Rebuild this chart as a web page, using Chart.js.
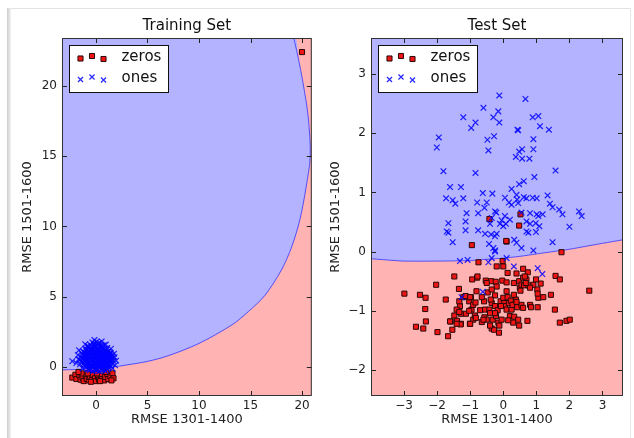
<!DOCTYPE html>
<html>
<head>
<meta charset="utf-8">
<script src="https://cdn.jsdelivr.net/npm/chart.js@4.4.1/dist/chart.umd.min.js"></script>
<style>
  html, body { margin: 0; padding: 0; background: #fff; }
  body { width: 634px; height: 438px; position: relative; overflow: hidden; }
  .edge-top { position: absolute; left: 8px; top: 8px; width: 623px; height: 1px; background: #e3e3e3; }
  .edge-left { position: absolute; left: 7px; top: 8px; width: 4px; height: 430px; background: linear-gradient(to right, #cdcdcd, #f3f3f3); }
  .edge-right { position: absolute; left: 630px; top: 8px; width: 1px; height: 430px; background: #e6e6e6; }
  .panel { position: absolute; top: 0; width: 317px; height: 438px; }
  #leftPanel { left: 0; }
  #rightPanel { left: 317px; }
</style>
</head>
<body>
<div class="edge-top"></div>
<div class="edge-left"></div>
<div class="edge-right"></div>
<div class="panel" id="leftPanel"><canvas id="trainChart"></canvas></div>
<div class="panel" id="rightPanel"><canvas id="testChart"></canvas></div>
<script>
// ---------- Training Set ----------
const trainZeros = [
  [-2.3,-0.75],[-2.0,-0.55],[-1.9,-0.85],[-1.6,-0.6],[-1.5,-0.9],[-1.3,-0.75],[-1.2,-1.0],
  [-1.0,-0.6],[-0.9,-0.85],[-0.7,-0.95],[-0.6,-0.7],[-0.4,-0.9],[-0.3,-0.55],[-0.1,-0.8],
  [0.0,-1.0],[0.2,-0.7],[0.3,-0.9],[0.5,-0.6],[0.6,-0.85],[0.8,-0.95],[0.9,-0.7],[1.1,-0.5],
  [1.2,-0.85],[1.4,-0.65],[1.6,-0.45],[1.7,-0.8],[-1.4,-0.45],[-0.8,-0.45],[0.1,-0.45],
  [1.0,-0.35],[-1.7,-0.35],[0.4,-1.0],[-0.5,-1.05],[1.5,-0.95],[20.0,22.4]
];
const trainOnes = [
  [-0.35,1.75],[0.05,1.8],[0.35,1.72],[-0.15,1.68],[0.2,1.65],
  [-0.85,1.5],[-0.55,1.58],[-0.2,1.55],[0.1,1.6],[0.45,1.52],[0.75,1.55],[-0.7,1.45],[-0.38,1.46],[-0.05,1.47],[0.28,1.44],[0.6,1.45],
  [-1.05,1.3],[-0.75,1.38],[-0.45,1.32],[-0.12,1.4],[0.2,1.33],[0.5,1.37],[0.82,1.3],[1.1,1.35],[-0.9,1.24],[-0.6,1.26],[-0.28,1.25],[0.05,1.27],[0.35,1.24],[0.67,1.25],[0.97,1.22],
  [-1.25,1.1],[-0.95,1.18],[-0.62,1.12],[-0.3,1.2],[0.02,1.13],[0.32,1.18],[0.62,1.1],[0.92,1.16],[1.22,1.12],[-1.1,1.04],[-0.78,1.05],[-0.46,1.04],[-0.15,1.06],[0.17,1.04],[0.47,1.05],[0.77,1.03],[1.07,1.05],[1.37,1.04],
  [-1.35,0.92],[-1.05,0.98],[-0.72,0.9],[-0.42,0.97],[-0.1,0.93],[0.22,0.99],[0.52,0.91],[0.82,0.96],[1.12,0.92],[1.42,0.97],[-1.2,0.85],[-0.88,0.84],[-0.57,0.86],[-0.26,0.84],[0.06,0.86],[0.37,0.83],[0.67,0.85],[0.97,0.84],[1.27,0.86],[1.55,0.85],
  [-1.45,0.72],[-1.15,0.78],[-0.82,0.7],[-0.52,0.77],[-0.2,0.73],[0.12,0.79],[0.42,0.71],[0.72,0.76],[1.02,0.72],[1.32,0.78],[1.62,0.74],[-1.3,0.64],[-0.98,0.65],[-0.67,0.63],[-0.36,0.66],[-0.04,0.64],[0.27,0.65],[0.57,0.63],[0.87,0.66],[1.17,0.64],[1.47,0.65],
  [-1.55,0.52],[-1.22,0.58],[-0.92,0.5],[-0.6,0.57],[-0.28,0.53],[0.02,0.59],[0.32,0.51],[0.62,0.56],[0.92,0.52],[1.22,0.58],[1.52,0.54],[-1.4,0.44],[-1.08,0.45],[-0.76,0.43],[-0.44,0.46],[-0.13,0.44],[0.17,0.45],[0.47,0.43],[0.77,0.46],[1.07,0.44],[1.37,0.45],[1.68,0.44],
  [-1.35,0.32],[-1.02,0.38],[-0.72,0.3],[-0.4,0.37],[-0.1,0.33],[0.22,0.39],[0.52,0.31],[0.82,0.36],[1.12,0.32],[1.42,0.38],[-1.2,0.24],[-0.87,0.25],[-0.56,0.23],[-0.25,0.26],[0.07,0.24],[0.37,0.25],[0.67,0.23],[0.97,0.26],[1.27,0.24],[1.57,0.25],
  [-1.15,0.12],[-0.82,0.18],[-0.5,0.1],[-0.2,0.17],[0.12,0.13],[0.42,0.19],[0.72,0.11],[1.02,0.16],[1.32,0.12],[-0.98,0.05],[-0.66,0.04],[-0.35,0.06],[-0.04,0.05],[0.27,0.04],[0.57,0.06],[0.87,0.04],[1.17,0.05],[1.47,0.04],
  [-0.92,-0.02],[-0.62,-0.08],[-0.3,0.0],[0.02,-0.06],[0.32,-0.01],[0.62,-0.07],[0.92,-0.03],[1.22,-0.05],[-0.77,-0.15],[-0.45,-0.14],[-0.14,-0.16],[0.17,-0.15],[0.47,-0.14],[0.77,-0.16],[1.07,-0.15],
  [-0.6,-0.22],[-0.3,-0.28],[0.0,-0.24],[0.3,-0.3],[0.6,-0.22],[0.9,-0.26],
  [-2.3,0.42],[-1.9,0.28],[-1.75,0.85],[-1.65,1.2],[1.95,0.45],[1.85,0.12],[1.75,0.95],[1.45,1.3],
  [0.95,1.6],[-1.05,1.62],[0.55,1.82],[-0.15,1.92],[1.6,-0.1],[-1.3,-0.1],[-1.7,0.55],[1.8,0.7],[-1.55,0.2]
];
// decision boundary (blue region lies above/left of it)
const trainBoundary = [
  [-3.3,-0.2],[-2,-0.18],[-1,-0.14],[0,-0.1],[1.6,0.0],[3,0.15],[5,0.4],[7,0.8],[10,1.68],
  [13.2,3.0],[14.8,3.95],[16.4,5.1],[18,6.9],[19,8.55],[19.8,10.5],[20.4,12.8],[20.8,15],
  [20.6,17.8],[20.1,20.2],[19.6,22.1],[19.2,23.4]
];
const trainXTicks = [0, 5, 10, 15, 20];
const trainYTicks = [0, 5, 10, 15, 20];
const trainXRange = [-3.3, 20.95];
const trainYRange = [-2.06, 23.4];

// ---------- Test Set ----------
const testZeros = [
  [-2.99,-0.71],[-2.52,-0.73],[-2.35,-0.78],[-2.36,-0.97],[-2.64,-1.27],[-2.42,-1.30],[-2.34,-1.18],
  [-1.99,-1.36],[-2.03,-0.56],[-1.74,-0.81],[-1.67,-1.43],[-1.54,-1.32],[-1.59,-1.18],[-1.48,-0.42],
  [-1.48,-1.08],[-1.40,-1.17],[-1.34,-0.63],[-1.31,-0.92],[-1.33,-0.84],[-1.28,-1.05],[-1.28,-1.22],
  [-1.21,-0.77],[-1.14,-0.75],[-1.03,-0.84],[-1.01,-1.22],[-0.98,-0.77],[-0.94,-0.47],[-0.95,0.11],
  [-0.91,-1.15],[-0.96,-0.98],[-0.91,-0.90],[-0.84,-0.86],[-0.86,-1.08],[-0.79,-0.44],[-0.75,-0.18],
  [-0.70,-0.99],[-0.65,-1.19],[-0.58,-0.84],[-0.55,-0.98],[-0.53,-0.49],[-0.57,-1.11],[-0.50,-1.15],
  [-0.47,-0.69],[-0.42,-0.98],[-0.40,-1.04],[-0.37,-0.50],[-0.35,-0.87],[-0.35,-1.30],[-0.32,-1.15],
  [-0.28,-1.32],[-0.25,-0.74],[-0.25,-0.92],[-0.23,-0.51],[-0.22,-1.09],[-0.20,-0.25],[-0.17,-0.99],
  [-0.15,-1.20],[-0.13,-1.37],[-0.12,-1.25],[-0.08,-0.84],[-0.05,-1.15],[-0.03,-0.49],[0.0,-0.25],
  [-0.02,-0.16],[0.0,-0.78],[0.03,-0.87],[0.05,-0.92],[0.10,-0.52],[0.10,-0.98],[0.13,-0.77],
  [0.10,0.17],[0.17,-0.87],[0.20,-1.09],[0.13,-0.36],[0.23,-0.83],[0.25,-0.98],[0.28,-0.90],
  [0.32,-0.53],[0.33,-1.10],[0.38,-0.81],[0.40,-0.37],[0.42,-0.94],[0.45,-1.15],[0.48,0.44],
  [0.48,-0.50],[0.48,-1.25],[0.50,-0.61],[0.52,-0.66],[0.55,-0.56],[0.60,-0.44],[0.63,-0.57],
  [0.55,-0.90],[0.60,-0.95],[0.70,-0.47],[0.74,-0.35],[0.76,-0.57],[0.73,-1.17],[0.81,-0.90],
  [0.84,-0.94],[0.91,-0.56],[1.03,-0.64],[1.06,-0.78],[1.04,-0.94],[1.13,-0.54],[1.21,-0.77],
  [1.44,-0.73],[1.58,-0.41],[1.56,-0.98],[1.71,-0.47],[1.71,-1.20],[1.76,-0.01],[1.91,-1.17],
  [2.01,-1.15],[2.60,-0.66],[-0.42,0.55],[0.52,0.63],[0.09,0.18],
  [0.10,-0.67],[0.32,-0.73],[-0.20,-0.59],[-0.35,-0.64],[-0.81,-0.67],[-0.65,-0.77],[0.30,-1.20],
  [0.15,-1.16],[-0.40,-1.25],[0.81,-0.61],[0.99,-0.47],[-1.41,-0.98],[-1.13,-1.05],[-0.50,-0.53],
  [0.60,-0.29],[0.65,-0.42],[0.68,-0.53],[0.40,-0.85],[-0.07,-0.92],[-0.25,-1.04],[1.04,-0.71],
  [-0.78,-0.42],[-1.00,-0.77],[-1.33,-1.02],[-1.03,-1.00],[-1.29,-1.23],[-1.00,-1.22],[-0.83,-1.12],
  [-0.60,-1.15],[-0.38,-0.81],[-1.61,-1.18],[-1.41,-1.22]
];
const testOnes = [
  [-0.12,2.64],[0.67,2.58],[-0.60,2.43],[-0.15,2.37],[-1.21,2.27],[-0.30,2.27],[0.89,2.27],[1.06,2.29],
  [-0.84,2.18],[-0.12,2.18],[-0.97,2.09],[1.11,2.12],[0.43,2.06],[0.45,2.05],[1.38,2.06],[-1.95,1.93],
  [-0.28,1.95],[-0.48,1.89],[0.91,1.90],[-2.01,1.76],[-0.45,1.71],[0.57,1.73],[0.48,1.69],[0.91,1.73],
  [0.38,1.60],[0.57,1.57],[0.79,1.57],[-1.81,1.36],[-0.84,1.33],[1.58,1.37],[0.94,1.26],[0.48,1.14],
  [0.62,1.19],[0.25,1.06],[-1.61,1.09],[-1.28,1.09],[-0.33,0.98],[-0.62,0.99],[1.34,0.95],[0.40,0.96],
  [-1.73,0.90],[-1.53,0.87],[-1.45,0.81],[-1.21,0.90],[-0.79,0.83],[-0.50,0.83],[-0.57,0.74],[0.05,0.91],
  [0.17,0.83],[0.25,0.79],[0.42,0.88],[0.62,0.92],[0.70,0.90],[0.89,0.91],[1.01,0.90],[0.45,0.82],
  [1.41,0.81],[1.49,0.75],[1.69,0.71],[1.79,0.63],[2.29,0.68],[2.37,0.60],[-1.11,0.65],[-0.76,0.65],
  [-0.25,0.68],[-0.21,0.66],[0.55,0.66],[0.81,0.65],[1.01,0.63],[1.06,0.60],[1.19,0.63],[-0.35,0.57],
  [-0.05,0.53],[0.05,0.60],[0.08,0.47],[0.20,0.54],[-0.10,0.47],[-1.66,0.48],[-1.14,0.51],[-1.71,0.34],
  [-1.14,0.36],[-1.66,0.32],[-0.76,0.36],[-0.40,0.47],[0.0,0.43],[0.70,0.51],[0.81,0.47],[0.98,0.48],
  [1.09,0.43],[0.99,0.33],[0.70,0.34],[-0.20,0.30],[-0.25,0.26],[-0.43,0.13],[-0.30,0.06],[-0.25,0.02],
  [0.33,0.20],[0.40,0.15],[2.0,0.42],[-1.53,0.16],[1.49,0.16],[0.91,0.02],[0.55,0.06],[0.76,0.32],
  [-0.37,0.29],[-0.55,0.30],[-1.31,-0.16],[-1.08,-0.14],[-0.45,-0.18],[-0.35,-0.11],[-0.25,0.0],
  [0.32,-0.25],[1.04,-0.28],[1.18,-0.38],[-0.62,-0.68],[-1.26,-0.77],[0.10,-0.11]
];
const testBoundary = [
  [-4.0,-0.12],[-3.3,-0.15],[-3.0,-0.16],[-2.0,-0.16],[-1.0,-0.15],[-0.5,-0.13],[0.0,-0.11],
  [0.5,-0.08],[1.0,-0.04],[1.5,0.0],[2.0,0.04],[2.5,0.09],[3.0,0.14],[3.62,0.2]
];
const testXTicks = [-3, -2, -1, 0, 1, 2, 3];
const testYTicks = [-2, -1, 0, 1, 2, 3];
const testXRange = [-4.0, 3.62];
const testYRange = [-2.44, 3.61];

const seriesNames = ['zeros', 'ones'];
const xTitle = 'RMSE 1301-1400';
const yTitle = 'RMSE 1501-1600';

Chart.defaults.font.family = "'DejaVu Sans', sans-serif";
Chart.defaults.color = '#222';

const BLUE_REGION = '#b3b3ff';
const RED_REGION = '#ffb3b3';
const EDGE_BLUE = 'rgba(60,60,255,0.85)';
const toPts = arr => arr.map(([x, y]) => ({ x, y }));
const fmt = v => (v < 0 ? '\u2212' + Math.abs(v) : String(v));

// matplotlib-like frame: pink background, box, inward ticks, legend
function mplPlugin() {
  return {
    id: 'mplFrame',
    beforeDatasetsDraw(chart) {
      const { ctx, chartArea: a } = chart;
      ctx.save();
      ctx.fillStyle = RED_REGION;
      ctx.fillRect(a.left, a.top, a.width, a.height);
      ctx.restore();
    },
    afterDatasetsDraw(chart) {
      const { ctx, chartArea: a, scales } = chart;
      ctx.save();
      ctx.strokeStyle = '#222';
      ctx.lineWidth = 1;
      ctx.beginPath();
      scales.x.ticks.forEach(t => {
        const p = Math.round(scales.x.getPixelForValue(t.value)) + 0.5;
        ctx.moveTo(p, a.top); ctx.lineTo(p, a.top + 5);
        ctx.moveTo(p, a.bottom); ctx.lineTo(p, a.bottom - 5);
      });
      scales.y.ticks.forEach(t => {
        const p = Math.round(scales.y.getPixelForValue(t.value)) + 0.5;
        ctx.moveTo(a.left, p); ctx.lineTo(a.left + 5, p);
        ctx.moveTo(a.right, p); ctx.lineTo(a.right - 5, p);
      });
      ctx.stroke();
      ctx.strokeStyle = '#333';
      ctx.strokeRect(a.left + 0.5, a.top + 0.5, a.width - 1, a.height - 1);

      // legend box (upper left, inside the axes)
      const bx = a.left + 7.5, by = a.top + 7.5, bw = 99, bh = 47;
      ctx.fillStyle = '#fff';
      ctx.fillRect(bx, by, bw, bh);
      ctx.strokeStyle = '#111';
      ctx.strokeRect(bx, by, bw, bh);
      const rows = [a.top + 19.5, a.top + 40.5];
      const dx = [11, 22.5, 34], dy = [1, -1.5, 1.5];
      const ds = chart.data.datasets;
      rows.forEach((ry, i) => {
        const d = ds.find(s => s.label === seriesNames[i]);
        dx.forEach((ox, k) => {
          ctx.fillStyle = d.pointBackgroundColor;
          ctx.strokeStyle = d.pointBorderColor;
          ctx.lineWidth = d.pointBorderWidth;
          Chart.helpers.drawPoint(ctx, { pointStyle: d.pointStyle, radius: 3.6, borderWidth: d.pointBorderWidth, rotation: 0 }, bx + ox, ry + dy[k]);
        });
        ctx.fillStyle = '#111';
        ctx.font = "15px 'DejaVu Sans', sans-serif";
        ctx.textBaseline = 'middle';
        ctx.textAlign = 'left';
        ctx.fillText(seriesNames[i], bx + 52, ry);
      });
      ctx.restore();
    }
  };
}

function makeChart(id, p) {
  const datasets = [
    { label: seriesNames[1], data: toPts(p.ones), order: 0,
      pointStyle: 'crossRot', pointRadius: 4, pointBackgroundColor: 'rgba(0,0,255,0.85)',
      pointBorderColor: 'rgba(0,0,255,0.85)', pointBorderWidth: 1.2 },
    { label: seriesNames[0], data: toPts(p.zeros), order: 1,
      pointStyle: 'rect', pointRadius: 3.6, pointBackgroundColor: '#f01414',
      pointBorderColor: '#2a0808', pointBorderWidth: 1 },
    // decision boundary line
    { label: 'edge', data: toPts(p.boundary), order: 2, showLine: true, pointRadius: 0,
      fill: false, borderColor: EDGE_BLUE, borderWidth: 1, tension: 0.3 },
    // blue decision region (filled, no outline)
    { label: 'region', data: toPts(p.region), order: 3, showLine: true, pointRadius: 0,
      fill: p.fill, backgroundColor: BLUE_REGION, borderWidth: 0, borderColor: 'rgba(0,0,0,0)', tension: 0.3 }
  ];
  return new Chart(document.getElementById(id), {
    type: 'scatter',
    data: { datasets },
    options: {
      responsive: true,
      maintainAspectRatio: false,
      animation: false,
      events: [],
      layout: { padding: { top: 0, left: 0, bottom: 0, right: p.padRight } },
      plugins: { legend: { display: false }, tooltip: { enabled: false }, title: { display: false } },
      scales: {
        x: {
          type: 'linear', position: 'bottom', min: p.xRange[0], max: p.xRange[1],
          afterBuildTicks: ax => { ax.ticks = p.xTicks.map(value => ({ value })); },
          afterFit: ax => { ax.height = 42; },
          grid: { display: false, drawTicks: false }, border: { display: false },
          ticks: { font: { size: 12 }, color: '#222', padding: 3, maxRotation: 0, autoSkip: false, callback: fmt },
          title: { display: true, text: xTitle, font: { size: 13 }, color: '#222', padding: { top: 0, bottom: 10.7 } }
        },
        x2: {
          type: 'linear', position: 'top', display: true, min: 0, max: 1,
          afterFit: ax => { ax.height = 38; },
          grid: { display: false, drawTicks: false }, border: { display: false },
          ticks: { display: false },
          title: { display: true, text: p.title, font: { size: 15 }, color: '#111', padding: { top: 17.5, bottom: 0 } }
        },
        y: {
          type: 'linear', min: p.yRange[0], max: p.yRange[1],
          afterBuildTicks: ax => { ax.ticks = p.yTicks.map(value => ({ value })); },
          afterFit: ax => { ax.width = p.yWidth; },
          grid: { display: false, drawTicks: false }, border: { display: false },
          ticks: { font: { size: 12 }, color: '#222', padding: 5, autoSkip: false, callback: fmt },
          title: { display: true, text: yTitle, font: { size: 13 }, color: '#222', padding: { top: p.yTitlePad, bottom: 0 } }
        }
      }
    },
    plugins: [mplPlugin()]
  });
}

makeChart('trainChart', {
  title: 'Training Set', zeros: trainZeros, ones: trainOnes, boundary: trainBoundary,
  // close the blue region through the top-left corner of the axes
  region: trainBoundary.concat([[trainXRange[0], trainYRange[1]]]),
  fill: 'shape', xRange: trainXRange, yRange: trainYRange, xTicks: trainXTicks, yTicks: trainYTicks,
  yWidth: 62, yTitlePad: 19.7, padRight: 4
});

makeChart('testChart', {
  title: 'Test Set', zeros: testZeros, ones: testOnes, boundary: testBoundary,
  region: testBoundary,
  fill: 'end', xRange: testXRange, yRange: testYRange, xTicks: testXTicks, yTicks: testYTicks,
  yWidth: 54, yTitlePad: 10.5, padRight: 11
});
</script>
</body>
</html>
